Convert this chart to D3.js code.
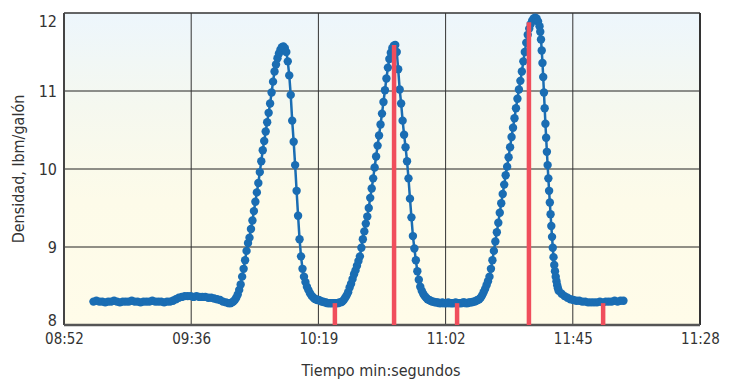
<!DOCTYPE html>
<html>
<head>
<meta charset="utf-8">
<script src="https://cdn.jsdelivr.net/npm/d3@7"></script>
<style>
  body { margin: 0; background: #fff; }
  svg text { font-family: "Liberation Sans Narrow", "DejaVu Sans Condensed", "Roboto", sans-serif; fill: #333; }
</style>
</head>
<body>
<svg id="chart" width="731" height="381"></svg>
<script>
// elapsed seconds from 08:52 for the tick marks, and their labels
var tickSeconds = [0, 43.2, 86.4, 129.6, 172.8, 216];
var tickLabels = ['08:52', '09:36', '10:19', '11:02', '11:45', '11:28'];
var densityTicks = [8, 9, 10, 11, 12];

// density readings, each run sampled at a fixed interval starting at t0 (s)
var baseline = [8.30, 8.31, 8.30, 8.30, 8.29, 8.30, 8.30, 8.31, 8.30, 8.29, 8.30, 8.30, 8.30, 8.31,
  8.30, 8.30, 8.29, 8.30, 8.30, 8.30, 8.31, 8.30, 8.30, 8.30, 8.29, 8.30, 8.30,
  8.31, 8.33, 8.35, 8.36, 8.37,
  8.37, 8.37, 8.36, 8.37, 8.36, 8.36, 8.36, 8.35, 8.35,
  8.34, 8.33, 8.32, 8.30, 8.29, 8.28];
var peak1 = [8.28, 8.29, 8.30, 8.32, 8.35, 8.39, 8.45, 8.52, 8.62, 8.72, 8.83, 8.95, 9.05, 9.12,
  9.23, 9.34, 9.46, 9.58, 9.70, 9.82, 9.96, 10.10, 10.24, 10.36, 10.48, 10.60, 10.72, 10.84,
  10.98, 11.12, 11.25, 11.34, 11.42, 11.48, 11.53, 11.56, 11.57, 11.55, 11.50, 11.38, 11.20,
  10.95, 10.62, 10.35, 10.05, 9.72, 9.40, 9.10, 8.88, 8.72, 8.62, 8.55, 8.49, 8.45, 8.41,
  8.38, 8.36, 8.34, 8.33, 8.32, 8.32, 8.31, 8.30, 8.30, 8.29, 8.29, 8.28, 8.28, 8.28, 8.28,
  8.28, 8.28];
var peak2 = [8.28, 8.28, 8.29, 8.29, 8.30, 8.32, 8.35, 8.38, 8.42, 8.48, 8.53, 8.59, 8.65, 8.70,
  8.76, 8.82, 8.88, 8.99, 9.10, 9.20, 9.30, 9.39, 9.50, 9.63, 9.75, 9.88, 10.02, 10.16, 10.30,
  10.43, 10.57, 10.71, 10.86, 11.01, 11.16, 11.30, 11.41, 11.49, 11.55, 11.58, 11.59, 11.50,
  11.28, 11.02, 10.84, 10.62, 10.44, 10.28, 10.10, 9.88, 9.62, 9.38, 9.14, 8.98, 8.83, 8.69,
  8.58, 8.49, 8.44, 8.40, 8.37, 8.35, 8.33, 8.32, 8.31, 8.30, 8.30, 8.29];
var rise3 = [8.29, 8.29, 8.28, 8.28, 8.29, 8.28, 8.28, 8.28, 8.29, 8.28, 8.28, 8.28, 8.28, 8.29,
  8.28, 8.28, 8.28, 8.28, 8.29, 8.29, 8.28, 8.28, 8.29, 8.29, 8.29, 8.30, 8.30, 8.31,
  8.32, 8.33, 8.35, 8.38, 8.42, 8.46, 8.51, 8.56, 8.62, 8.72, 8.83, 8.95, 9.07, 9.19, 9.31,
  9.44, 9.56, 9.68, 9.80, 9.92, 10.03, 10.15, 10.28, 10.41, 10.53, 10.65, 10.78, 10.90, 11.02,
  11.13, 11.25, 11.38, 11.50, 11.62, 11.72, 11.80, 11.86, 11.90, 11.93, 11.94, 11.93, 11.89,
  11.83];
var fall3 = [11.76, 11.66, 11.52, 11.36, 11.18, 10.98, 10.78, 10.58, 10.40, 10.22, 10.05, 9.88,
  9.72, 9.57, 9.42, 9.27, 9.13, 8.99, 8.87, 8.77, 8.69, 8.62, 8.56, 8.51, 8.47, 8.44];
var tail = [8.40, 8.37, 8.35, 8.33, 8.32, 8.31, 8.31, 8.30, 8.30, 8.29, 8.29, 8.29, 8.29, 8.30,
  8.29, 8.30, 8.30, 8.30, 8.31, 8.30, 8.31, 8.31];

var runStart = [10, 56.5, 92.5, 126.5, 161.75, 169];
var runStep = [1, 0.5, 0.5, 0.5, 0.25, 1];

// sample points (red markers)
var sampleSeconds = [92.0, 112.1, 133.5, 157.9, 183.1];
var sampleDensity = [8.28, 11.59, 8.28, 11.88, 8.28];

document.addEventListener('DOMContentLoaded', function () {
    var runs = [baseline, peak1, peak2, rise3, fall3, tail];
    var readings = [];
    runs.forEach(function (run, i) {
        run.forEach(function (v, j) {
            readings.push({ t: runStart[i] + j * runStep[i], v: v });
        });
    });
    drawChart(readings);
});

function drawChart(readings) {
    var svg = d3.select('#chart');
    var margin = { top: 13, right: 31, bottom: 56, left: 64 };
    var innerWidth = 731 - margin.left - margin.right;
    var innerHeight = 381 - margin.top - margin.bottom;

    var xScale = d3.scaleLinear().domain([0, 216]).range([0, innerWidth]);
    var yScale = d3.scaleLinear().domain([8, 12]).range([innerHeight, 0]);

    var defs = svg.append('defs');
    var grad = defs.append('linearGradient')
        .attr('id', 'bg').attr('x1', 0).attr('y1', 0).attr('x2', 0).attr('y2', 1);
    grad.append('stop').attr('offset', '0%').attr('stop-color', '#edf6fc');
    grad.append('stop').attr('offset', '30%').attr('stop-color', '#f5f8ef');
    grad.append('stop').attr('offset', '60%').attr('stop-color', '#fdfbe9');
    grad.append('stop').attr('offset', '100%').attr('stop-color', '#fffce9');

    var g = svg.append('g')
        .attr('transform', 'translate(' + margin.left + ',' + margin.top + ')');

    g.append('rect')
        .attr('width', innerWidth).attr('height', innerHeight)
        .attr('fill', 'url(#bg)');

    // grid
    g.selectAll('.hgrid').data(densityTicks.slice(1, -1)).join('line')
        .attr('class', 'hgrid')
        .attr('x1', 0).attr('x2', innerWidth)
        .attr('y1', d => yScale(d)).attr('y2', d => yScale(d))
        .attr('stroke', '#222').attr('stroke-width', 1);
    g.selectAll('.vgrid').data(tickSeconds.slice(1, -1)).join('line')
        .attr('class', 'vgrid')
        .attr('x1', d => xScale(d)).attr('x2', d => xScale(d))
        .attr('y1', 0).attr('y2', innerHeight)
        .attr('stroke', '#333').attr('stroke-width', 1);

    // frame
    g.append('line').attr('x1', 0).attr('x2', innerWidth).attr('y1', 0).attr('y2', 0)
        .attr('stroke', '#333').attr('stroke-width', 1.5);
    g.append('line').attr('x1', innerWidth).attr('x2', innerWidth).attr('y1', 0).attr('y2', innerHeight)
        .attr('stroke', '#333').attr('stroke-width', 2);
    g.append('line').attr('x1', 0).attr('x2', 0).attr('y1', 0).attr('y2', innerHeight)
        .attr('stroke', '#444').attr('stroke-width', 2);
    g.append('line').attr('x1', 0).attr('x2', innerWidth).attr('y1', innerHeight).attr('y2', innerHeight)
        .attr('stroke', '#555').attr('stroke-width', 2.5);

    // density line and dots
    var line = d3.line().x(d => xScale(d.t)).y(d => yScale(d.v));
    g.append('path').datum(readings)
        .attr('fill', 'none').attr('stroke', '#1a6db3').attr('stroke-width', 2.5)
        .attr('d', line);
    g.selectAll('.dot').data(readings).join('circle')
        .attr('class', 'dot')
        .attr('cx', d => xScale(d.t)).attr('cy', d => yScale(d.v))
        .attr('r', 4.2).attr('fill', '#1a6db3');

    // sample markers
    g.selectAll('.sample').data(sampleSeconds).join('line')
        .attr('class', 'sample')
        .attr('x1', d => xScale(d)).attr('x2', d => xScale(d))
        .attr('y1', innerHeight).attr('y2', (d, i) => yScale(sampleDensity[i]))
        .attr('stroke', '#f04e5c').attr('stroke-width', 4.5);

    // axes
    var xAxis = d3.axisBottom(xScale)
        .tickValues(tickSeconds)
        .tickFormat((d, i) => tickLabels[i])
        .tickSize(0).tickPadding(8);
    var xg = g.append('g').attr('transform', 'translate(0,' + innerHeight + ')').call(xAxis);
    xg.select('.domain').remove();
    xg.selectAll('text').attr('font-size', 15).style('fill', '#333');

    var yAxis = d3.axisLeft(yScale).tickValues(densityTicks)
        .tickFormat(d3.format('d')).tickSize(0).tickPadding(7);
    var yg = g.append('g').call(yAxis);
    yg.select('.domain').remove();
    yg.selectAll('text').attr('font-size', 16).style('fill', '#333')
        .attr('dy', d => d === 12 ? '0.85em' : d === 8 ? '0.05em' : '0.32em');

    svg.append('text')
        .attr('x', margin.left + innerWidth / 2 - 1).attr('y', 376)
        .attr('text-anchor', 'middle').attr('font-size', 16)
        .text('Tiempo min:segundos');

    svg.append('text')
        .attr('transform', 'translate(24,' + (margin.top + innerHeight / 2) + ') rotate(-90)')
        .attr('text-anchor', 'middle').attr('font-size', 16)
        .text('Densidad, lbm/galón');
}
</script>
</body>
</html>
